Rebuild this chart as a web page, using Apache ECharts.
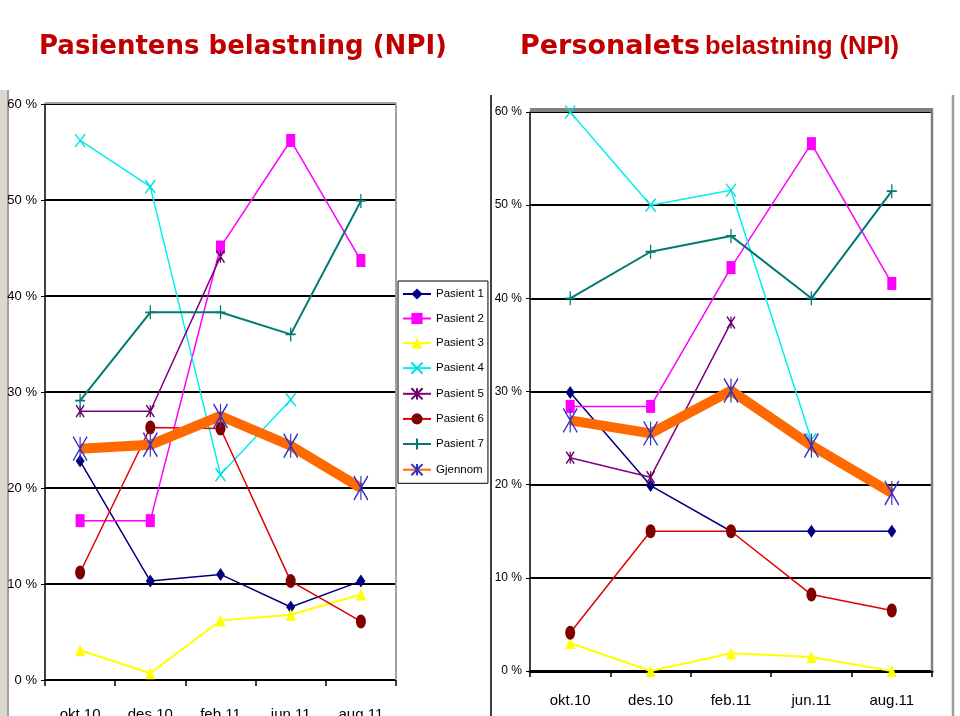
<!DOCTYPE html>
<html>
<head>
<meta charset="utf-8">
<script src="https://cdn.jsdelivr.net/npm/echarts@6/dist/echarts.min.js"></script>
<style>
html,body{margin:0;padding:0;background:#fff;}
#chart{width:960px;height:716px;}
</style>
</head>
<body>
<div id="chart"></div>
<script>
// ---------- DATA ----------
var categories = ['okt.10', 'des.10', 'feb.11', 'jun.11', 'aug.11'];
var seriesNames = ['Pasient 1', 'Pasient 2', 'Pasient 3', 'Pasient 4', 'Pasient 5', 'Pasient 6', 'Pasient 7', 'Gjennomsnitt'];
var yTicks = [0, 10, 20, 30, 40, 50, 60];

// Left chart: Pasientens belastning (NPI), percent
var patP1 = [22.8, 10.3, 11.0, 7.6, 10.3];
var patP2 = [16.6, 16.6, 45.1, 56.2, 43.7];
var patP3 = [3.1, 0.7, 6.2, 6.8, 8.9];
var patP4 = [56.2, 51.4, 21.4, 29.2, null];
var patP5 = [28.0, 28.0, 44.1, null, null];
var patP6 = [11.2, 26.3, 26.2, 10.3, 6.1];
var patP7 = [29.1, 38.3, 38.3, 36.0, 49.9];
var patAvg = [24.1, 24.5, 27.5, 24.4, 20.0];

// Right chart: Personalets belastning (NPI), percent
var staP1 = [29.9, 19.9, 15.0, 15.0, 15.0];
var staP2 = [28.4, 28.4, 43.3, 56.6, 41.6];
var staP3 = [3.0, 0.0, 1.9, 1.5, 0.0];
var staP4 = [60.0, 50.0, 51.6, 24.8, null];
var staP5 = [22.9, 20.8, 37.4, null, null];
var staP6 = [4.1, 15.0, 15.0, 8.2, 6.5];
var staP7 = [40.0, 45.0, 46.7, 40.0, 51.5];
var staAvg = [26.9, 25.5, 30.1, 24.2, 19.1];

var leftData = [patP1, patP2, patP3, patP4, patP5, patP6, patP7, patAvg];
var rightData = [staP1, staP2, staP3, staP4, staP5, staP6, staP7, staAvg];

// ---------- STYLES ----------
var PATH_X = 'path://M0,0L10,14M10,0L0,14';
var PATH_AST = 'path://M0,0L10,14M10,0L0,14M5,0L5,14';
var PATH_PLUS = 'path://M5,0L5,14M0,7L10,7';
var PATH_ELL = 'path://M5,0A5,7,0,1,1,5,14A5,7,0,1,1,5,0Z';

var styles = [
  {line: '#000080', width: 1.5, symbol: 'diamond', size: [9, 13], fill: '#000080'},
  {line: '#ff00ff', width: 1.5, symbol: 'rect', size: [9, 13], fill: '#ff00ff'},
  {line: '#ffff00', width: 2, symbol: 'triangle', size: [10, 12], fill: '#ffff00'},
  {line: '#00f0f0', width: 1.5, symbol: PATH_X, size: [10, 13], stroke: '#00e0e0'},
  {line: '#800080', width: 1.5, symbol: PATH_AST, size: [8, 12], stroke: '#660066'},
  {line: '#e00000', width: 1.5, symbol: PATH_ELL, size: [10, 14], fill: '#800000'},
  {line: '#007a72', width: 2, symbol: PATH_PLUS, size: [10, 14], stroke: '#007a72'},
  {line: '#ff6a00', width: 10, symbol: PATH_AST, size: [14, 24], stroke: '#3030c8'}
];

function makeSeries(data, idx, gridIdx) {
  var st = styles[idx];
  var itemStyle = st.stroke
    ? {color: 'rgba(0,0,0,0)', borderColor: st.stroke, borderWidth: 1.5}
    : {color: st.fill, borderWidth: 0};
  return {
    name: seriesNames[idx],
    type: 'line',
    xAxisIndex: gridIdx,
    yAxisIndex: gridIdx,
    data: data,
    symbol: st.symbol,
    symbolSize: st.size,
    showSymbol: true,
    showAllSymbol: true,
    connectNulls: false,
    lineStyle: {color: st.line, width: st.width},
    itemStyle: itemStyle,
    emphasis: {disabled: true},
    animation: false,
    z: 2 + idx
  };
}

var series = [];
leftData.forEach(function (d, i) { series.push(makeSeries(d, i, 0)); });
rightData.forEach(function (d, i) { series.push(makeSeries(d, i, 1)); });

var NARROW = "'Liberation Sans Narrow', 'Arial Narrow', 'Liberation Sans', Arial, sans-serif";

function yAxis(gridIdx, labelSize) {
  return {
    type: 'value', gridIndex: gridIdx, min: 0, max: 60, interval: 10,
    axisLine: {show: true, lineStyle: {color: '#000', width: 1.5}},
    axisTick: {show: true, length: 4, lineStyle: {color: '#000'}},
    axisLabel: {formatter: function (v) { return v + ' %'; }, fontFamily: NARROW, fontSize: labelSize, color: '#000', margin: 8},
    splitLine: {show: true, lineStyle: {color: '#000', width: 2}}
  };
}
function xAxis(gridIdx, margin, lineW) {
  return {
    type: 'category', gridIndex: gridIdx, data: categories, boundaryGap: true,
    axisLine: {show: true, lineStyle: {color: '#000', width: lineW}},
    axisTick: {show: true, length: 6, lineStyle: {color: '#000', width: 1.5}},
    axisLabel: {fontFamily: NARROW, fontSize: 15, color: '#000', margin: margin}
  };
}

var option = {
  backgroundColor: '#ffffff',
  animation: false,
  title: [
    {text: 'Pasientens belastning (NPI)', left: 34, top: 29,
     textStyle: {fontFamily: "'DejaVu Sans', Verdana, sans-serif", fontWeight: 'bold', fontSize: 26, color: '#c00000'}},
    {text: '{a|Personalets} {b|belastning (NPI)}', left: 515, top: 28,
     textStyle: {rich: {
       a: {fontFamily: "'DejaVu Sans', Verdana, sans-serif", fontWeight: 'bold', fontSize: 27, color: '#c00000'},
       b: {fontFamily: "'Liberation Sans', Arial, sans-serif", fontWeight: 'bold', fontSize: 25.5, color: '#c00000'}
     }}}
  ],
  legend: {
    show: true,
    data: seriesNames,
    orient: 'vertical',
    left: 398, top: 281,
    padding: [7, 4, 7, 4],
    itemWidth: 28, itemHeight: 14, itemGap: 12.5,
    backgroundColor: '#ffffff',
    borderColor: '#000', borderWidth: 1,
    selectedMode: false,
    textStyle: {fontFamily: NARROW, fontSize: 11.5, color: '#000', width: 52, overflow: 'truncate', ellipsis: ''},
    z: 20
  },
  grid: [
    {left: 45, right: 564, top: 104, bottom: 36, containLabel: false, outerBoundsMode: 'none'},
    {left: 530, right: 28, top: 112, bottom: 45, containLabel: false, outerBoundsMode: 'none'}
  ],
  xAxis: [xAxis(0, 27, 2), xAxis(1, 22, 3)],
  yAxis: [yAxis(0, 13), yAxis(1, 12)],
  series: series,
  graphic: [
    {type: 'rect', shape: {x: 0, y: 90, width: 7, height: 626}, style: {fill: '#dcd8cf'}, silent: true},
    {type: 'line', shape: {x1: 8, y1: 90, x2: 8, y2: 716}, style: {stroke: '#808080', lineWidth: 1.5}, silent: true},
    {type: 'line', shape: {x1: 45, y1: 103, x2: 396, y2: 103}, style: {stroke: '#a0a0a0', lineWidth: 2}, silent: true, z: 1},
    {type: 'line', shape: {x1: 396, y1: 103, x2: 396, y2: 680}, style: {stroke: '#a0a0a0', lineWidth: 2}, silent: true, z: 1},
    {type: 'line', shape: {x1: 491, y1: 95, x2: 491, y2: 716}, style: {stroke: '#000', lineWidth: 1.5}, silent: true, z: 30},
    {type: 'line', shape: {x1: 530, y1: 110, x2: 933, y2: 110}, style: {stroke: '#808080', lineWidth: 4}, silent: true, z: 1},
    {type: 'line', shape: {x1: 932, y1: 110, x2: 932, y2: 671}, style: {stroke: '#808080', lineWidth: 2.5}, silent: true, z: 1},
    {type: 'line', shape: {x1: 953, y1: 95, x2: 953, y2: 716}, style: {stroke: '#a09c94', lineWidth: 2.5}, silent: true}
  ]
};

var chart = echarts.init(document.getElementById('chart'), null, {renderer: 'canvas'});
chart.setOption(option);
</script>
</body>
</html>
